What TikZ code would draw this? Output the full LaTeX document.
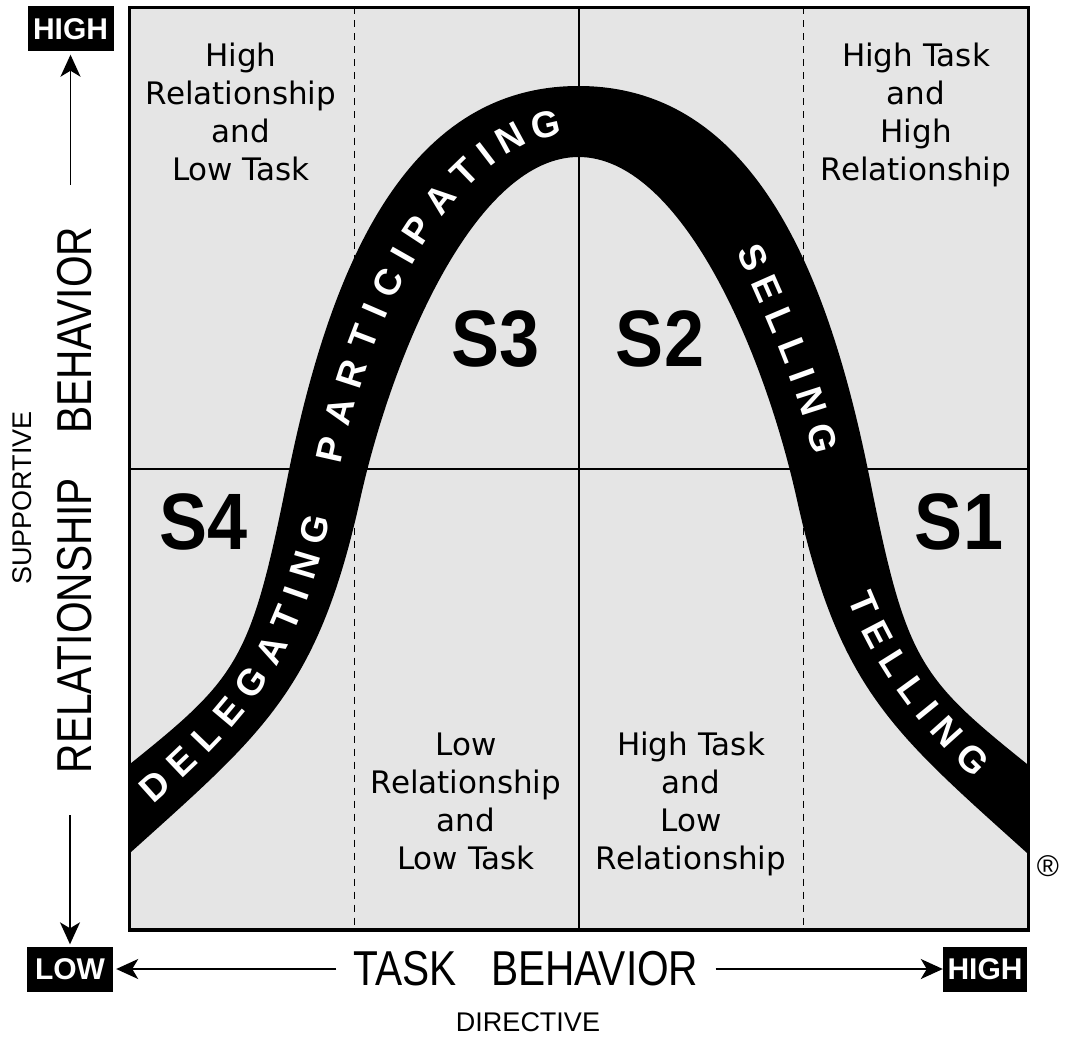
\documentclass[tikz,border=0pt]{standalone}
\usepackage{fontspec}
\setmainfont{Liberation Sans}
\newfontfamily\quadfont{DejaVu Sans}
\newfontfamily\axisfont[FakeStretch=0.83]{Liberation Sans}
\newfontfamily\stagefont[FakeStretch=0.9]{Liberation Sans}
\usepackage{tikz}
\usetikzlibrary{positioning, calc, arrows.meta}
\definecolor{panelgray}{RGB}{229,229,229}

\begin{document}
\begin{tikzpicture}[x=1pt,y=-1pt,
    quad/.style={align=center,inner sep=0pt,font=\quadfont\fontsize{31}{38}\selectfont},
    stage/.style={inner sep=0pt,font=\stagefont\bfseries\fontsize{80}{80}\selectfont},
    tag/.style={fill=black,text=white,inner sep=0pt,minimum width=86pt,minimum height=45pt,font=\bfseries\fontsize{30}{30}\selectfont},
    axislabel/.style={inner ysep=0pt,font=\axisfont\fontsize{49}{49}\selectfont},
    sublabel/.style={inner sep=0pt,font=\fontsize{27}{27}\selectfont},
    axisarrow/.style={line width=1.8pt,-{Stealth[length=22pt,width=20pt,inset=6pt]}},
    quarterline/.style={line width=1.2pt,dash pattern=on 7pt off 6pt},
    halfline/.style={line width=1.6pt},
    bandletter/.style={sloped,inner sep=0pt,text=white,font=\bfseries\fontsize{37}{37}\selectfont}]

    \useasboundingbox (0,0) rectangle (1067,1038);

    % Panel and quadrant lines
    \fill[panelgray] (129.5,7.5) rectangle (1028.5,930);
    \foreach \x in {354.25,803.75}
        \draw[quarterline] (\x,7.5) -- (\x,930);
    \draw[halfline] (579,7.5) -- (579,930);
    \draw[halfline] (129.5,469) -- (1028.5,469);

    % Bell-shaped band
    \begin{scope}
        \clip (129.5,7.5) rectangle (1028.5,930);
        \fill[black] (120,772) .. controls (237,678.3) and (249.8,666.2) .. (287,480)
            .. controls (326.2,284) and (398.5,86) .. (578.5,86)
            .. controls (758.5,86) and (830.8,284) .. (870,480)
            .. controls (907.2,666.2) and (920,678.3) .. (1037,772)
            -- (1037,862)
            .. controls (896.4,734.7) and (840.4,695.2) .. (797,500)
            .. controls (762.3,343.8) and (678.5,157) .. (578.5,157)
            .. controls (478.5,157) and (394.7,343.8) .. (360,500)
            .. controls (316.6,695.2) and (260.6,734.7) .. (120,862)
            -- cycle;
    \end{scope}

    % Words on the band
    \path (145,795) .. controls (250,702.6) and (285.8,650.8) .. (318,515)
        node[bandletter,pos=0.033] {D} node[bandletter,pos=0.127] {E}
        node[bandletter,pos=0.224] {L} node[bandletter,pos=0.331] {E}
        node[bandletter,pos=0.455] {G} node[bandletter,pos=0.584] {A}
        node[bandletter,pos=0.699] {T} node[bandletter,pos=0.782] {I}
        node[bandletter,pos=0.866] {N} node[bandletter,pos=0.965] {G};
    \path (328,462) .. controls (368.8,268.2) and (462,131.9) .. (561,122)
        node[bandletter,pos=0.022] {P} node[bandletter,pos=0.089] {A}
        node[bandletter,pos=0.160] {R} node[bandletter,pos=0.231] {T}
        node[bandletter,pos=0.287] {I} node[bandletter,pos=0.349] {C}
        node[bandletter,pos=0.415] {I} node[bandletter,pos=0.481] {P}
        node[bandletter,pos=0.570] {A} node[bandletter,pos=0.664] {T}
        node[bandletter,pos=0.739] {I} node[bandletter,pos=0.826] {N}
        node[bandletter,pos=0.949] {G};
    \path (748,245.8) .. controls (778.3,313.4) and (809.2,379.9) .. (825.5,452)
        node[bandletter,pos=0.056] {S} node[bandletter,pos=0.213] {E}
        node[bandletter,pos=0.366] {L} node[bandletter,pos=0.514] {L}
        node[bandletter,pos=0.634] {I} node[bandletter,pos=0.764] {N}
        node[bandletter,pos=0.935] {G};
    \path (859,593.5) .. controls (885.6,662.3) and (929.5,718.4) .. (982.8,769.5)
        node[bandletter,pos=0.051] {T} node[bandletter,pos=0.206] {E}
        node[bandletter,pos=0.360] {L} node[bandletter,pos=0.509] {L}
        node[bandletter,pos=0.631] {I} node[bandletter,pos=0.762] {N}
        node[bandletter,pos=0.935] {G};

    % Border
    \draw[line width=3.5pt] (129.5,7.5) rectangle (1028.5,930);

    % Quadrant texts
    \node[quad,anchor=north] (hirel) at (241,43) {High\\Relationship\\and\\Low Task};
    \node[quad,anchor=north] (hitaskhirel) at (916,43) {High Task\\and\\High\\Relationship};
    \node[quad,anchor=north] (lowrel) at (466,733) {Low\\Relationship\\and\\Low Task};
    \node[quad,anchor=north] (hitasklowrel) at (691,732) {High Task\\and\\Low\\Relationship};

    % Styles S1 - S4
    \node[stage] (sone) at (959,522) {S1};
    \node[stage] (stwo) at (660,339) {S2};
    \node[stage] (sthree) at (496,339) {S3};
    \node[stage] (sfour) at (204,522) {S4};

    % Axes
    \node[tag] (hightag) at (70.5,29) {HIGH};
    \node[tag] (lowtag) at (70,969) {LOW};
    \node[tag,minimum width=84pt] (hightagR) at (985,969) {HIGH};
    \node[axislabel,inner xsep=17pt] (taskaxis) at (526,969) {TASK\hspace{0.7em}BEHAVIOR};
    \node[sublabel] (directive) at (528,1022) {DIRECTIVE};
    \node[axislabel,rotate=90,inner xsep=42pt] (relaxis) at (75,500) {RELATIONSHIP\hspace{0.9em}BEHAVIOR};
    \node[sublabel,rotate=90] (supportive) at (22,498) {SUPPORTIVE};
    \node[inner sep=0pt,font=\fontsize{30}{30}\selectfont] (regmark) at (1048,866) {\textregistered};

    \draw[axisarrow,shorten >=3pt] (taskaxis.west) -- (lowtag.east);
    \draw[axisarrow] (taskaxis.east) -- (hightagR.west);
    \draw[axisarrow,shorten >=3pt] (relaxis.east -| hightag.south) -- (hightag.south);
    \draw[axisarrow,shorten >=2pt] (relaxis.west -| lowtag.north) -- (lowtag.north);
\end{tikzpicture}
\end{document}
